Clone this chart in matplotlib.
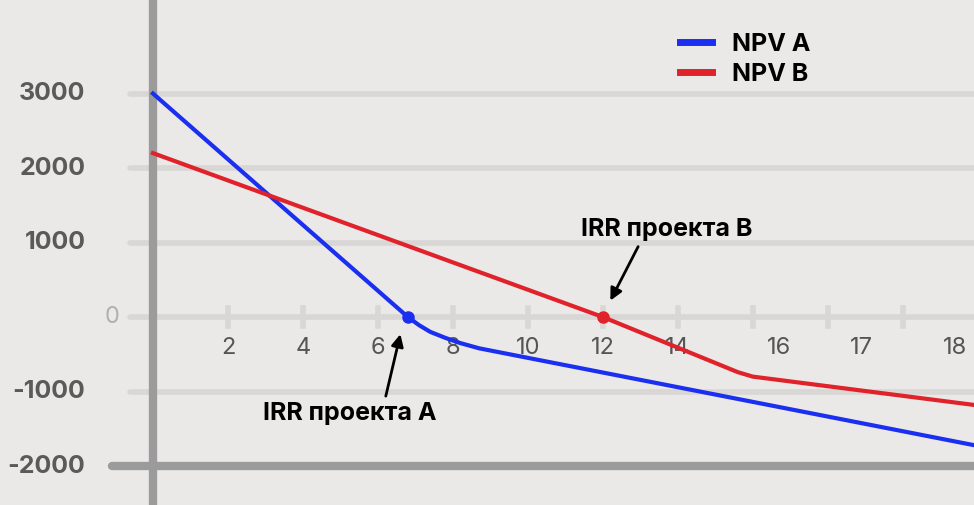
import matplotlib.pyplot as plt

# data
rate_a = [0, 6.8, 7.1, 7.4, 7.8, 8.2, 8.7, 21.9]
npv_a = [3000, 0, -110, -200, -280, -350, -420, -1720]
rate_b = [0, 12.0, 15.6, 16.0, 21.9]
npv_b = [2200, 0, -740, -800, -1180]
irr_a = (6.8, 0)
irr_b = (12.0, 0)
x_tick_pos = [2, 4, 6, 8, 10, 12, 14, 16.7, 18.9, 21.4]
x_tick_labels = ["2", "4", "6", "8", "10", "12", "14", "16", "17", "18"]
y_ticks = [3000, 2000, 1000, 0, -1000, -2000]

plt.rcParams['font.family'] = ['Inter', 'DejaVu Sans']
bg = '#ebe9e8'
fig = plt.figure(figsize=(9.74, 5.05), dpi=100, facecolor=bg)
ax = fig.add_axes([0, 0, 1, 1], facecolor=bg)
ax.set_xlim(-4.08, 21.9)
ax.set_ylim(-2523, 4255)
ax.axis('off')

# grid
for y in y_ticks[:-1]:
    ax.plot([-0.6, 21.9], [y, y], color='#d9d7d6', lw=4, zorder=1, solid_capstyle='round')
for x in range(2, 22, 2):
    ax.plot([x, x], [-120, 120], color='#d9d7d6', lw=4, zorder=1)
ax.plot([0, 0], [-2523, 4255], color='#9b9b9b', lw=6, zorder=2)
ax.plot([-1.1, 21.9], [-2000, -2000], color='#9b9b9b', lw=6, zorder=2, solid_capstyle='round')

for y in y_ticks:
    if y == 0:
        ax.text(-0.9, y, "0", ha='right', va='center', fontsize=17, color='#b0b0b0')
    else:
        ax.text(-1.8, y, str(y), ha='right', va='center', fontsize=18, fontweight='bold',
                color='#5a5a5a')
for x, lab in zip(x_tick_pos, x_tick_labels):
    ax.text(x, -420, lab, ha='center', va='center', fontsize=17, color='#555555')

ax.plot(rate_a, npv_a, color='#1b2ff0', lw=3, label='NPV A', zorder=3)
ax.plot(rate_b, npv_b, color='#e0222a', lw=3, label='NPV B', zorder=3)
ax.plot(*irr_a, 'o', color='#1b2ff0', ms=8, zorder=4)
ax.plot(*irr_b, 'o', color='#e0222a', ms=8, zorder=4)

ax.annotate('IRR проекта A', xy=(irr_a[0] - 0.2, -230), xytext=(5.25, -1290),
            ha='center', va='center', fontsize=18, fontweight='bold',
            arrowprops=dict(arrowstyle='-|>', color='black', lw=2, shrinkB=0,
                            relpos=(0.7, 1.0)))
ax.annotate('IRR проекта B', xy=(irr_b[0] + 0.2, 220), xytext=(13.7, 1170),
            ha='center', va='center', fontsize=18, fontweight='bold',
            arrowprops=dict(arrowstyle='-|>', color='black', lw=2, shrinkB=0,
                            relpos=(0.35, 0.0)))

leg = ax.legend(loc='upper left', bbox_to_anchor=(0.675, 0.98), frameon=False,
                prop={'size': 18, 'weight': 'bold'}, handlelength=1.3, labelspacing=0.3)
for h in leg.get_lines():
    h.set_linewidth(5)

fig.savefig('out.png', dpi=100, facecolor=bg)
